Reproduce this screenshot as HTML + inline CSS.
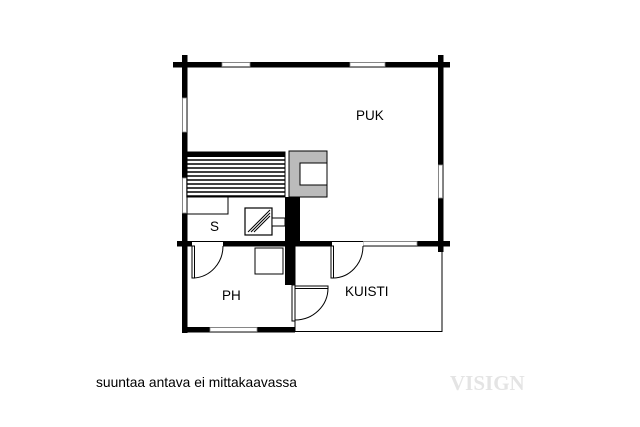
<!DOCTYPE html>
<html><head><style>
body{margin:0;background:#fff;width:640px;height:427px;overflow:hidden}
svg{display:block}
</style></head><body>
<svg width="640" height="427" viewBox="0 0 640 427">
<rect width="640" height="427" fill="#fff"/>
<rect x="295" y="245" width="147" height="86.5" fill="none" stroke="#000" stroke-width="1"/>
<g fill="#000">
<rect x="173" y="62" width="277" height="5.5"/>
<rect x="182" y="55" width="5.5" height="278"/>
<rect x="438" y="55" width="5.5" height="197"/>
<rect x="177" y="241" width="273" height="5.5"/>
<rect x="182" y="327" width="113" height="5.5"/>
<rect x="285" y="197" width="15" height="46"/>
<rect x="285" y="244" width="10" height="41"/>
<rect x="187" y="152" width="98" height="5"/>
</g>
<g fill="#fff" stroke="#888" stroke-width="0.8">
<rect x="222" y="62.5" width="28" height="4"/>
<rect x="350" y="62.5" width="35" height="4"/>
<rect x="182.5" y="98" width="4" height="34"/>
<rect x="182.5" y="178" width="4" height="35"/>
<rect x="438.5" y="165" width="4" height="33"/>
<rect x="363" y="241.5" width="54" height="4"/>
<rect x="210" y="327.5" width="47" height="4"/>
</g>
<rect x="192" y="240" width="31" height="7" fill="#fff"/>
<rect x="332" y="240" width="31" height="7" fill="#fff"/>
<g fill="none" stroke="#000" stroke-width="1">
<line x1="192" y1="241.5" x2="223" y2="241.5"/>
<line x1="332" y1="241.5" x2="363" y2="241.5"/>
</g>
<g stroke="#000" stroke-width="1.6">
<line x1="187" y1="160" x2="285" y2="160"/>
<line x1="187" y1="164" x2="285" y2="164"/>
<line x1="187" y1="168" x2="285" y2="168"/>
<line x1="187" y1="172" x2="285" y2="172"/>
<line x1="187" y1="176" x2="285" y2="176"/>
<line x1="187" y1="180" x2="285" y2="180"/>
<line x1="187" y1="184" x2="285" y2="184"/>
<line x1="187" y1="188" x2="285" y2="188"/>
<line x1="187" y1="192" x2="285" y2="192"/>
<line x1="187" y1="196" x2="285" y2="196"/>
</g>
<rect x="187" y="152" width="98" height="45" fill="none" stroke="#000" stroke-width="1"/>
<path d="M187 197 H228 V214 H187" fill="none" stroke="#000" stroke-width="1"/>
<rect x="289" y="151" width="38" height="46" fill="#bbb" stroke="#000" stroke-width="1"/>
<rect x="300" y="163" width="27" height="22" fill="#fff" stroke="#000" stroke-width="1"/>
<rect x="245" y="208" width="27" height="27" fill="#fff" stroke="#000" stroke-width="1.2"/>
<g stroke="#000" stroke-width="1">
<line x1="248" y1="232" x2="270" y2="210"/>
<line x1="251" y1="232" x2="270" y2="213"/>
<line x1="254" y1="232" x2="270" y2="216"/>
</g>
<rect x="272" y="218" width="13" height="8" fill="#fff" stroke="#000" stroke-width="1"/>
<rect x="255" y="248" width="28" height="26" fill="#fff" stroke="#000" stroke-width="1"/>
<g fill="none" stroke="#000" stroke-width="1">
<rect x="192" y="246" width="2.5" height="32" fill="#fff"/>
<path d="M194 278 A31 32 0 0 0 223 246"/>
<rect x="331" y="246" width="2.5" height="32" fill="#fff"/>
<path d="M333 278 A30 32 0 0 0 363 246"/>
<rect x="292" y="285" width="3" height="36" fill="#fff"/>
<rect x="295" y="286" width="33" height="2.5" fill="#fff"/>
<path d="M295 320 A33 32 0 0 0 328 288"/>
</g>
<g style="font-family:'Liberation Sans',sans-serif" font-size="13.5" fill="#000">
<text x="356" y="120">PUK</text>
<text x="210" y="231">S</text>
<text x="222" y="300">PH</text>
<text x="345" y="296">KUISTI</text>
<text x="96" y="387" style="font-size:13.8px">suuntaa antava ei mittakaavassa</text>
</g>
<text x="450" y="390" style="font-family:'Liberation Serif',serif;font-weight:bold;font-size:21px" fill="#e4e4e4">VISIGN</text>
</svg>
</body></html>
